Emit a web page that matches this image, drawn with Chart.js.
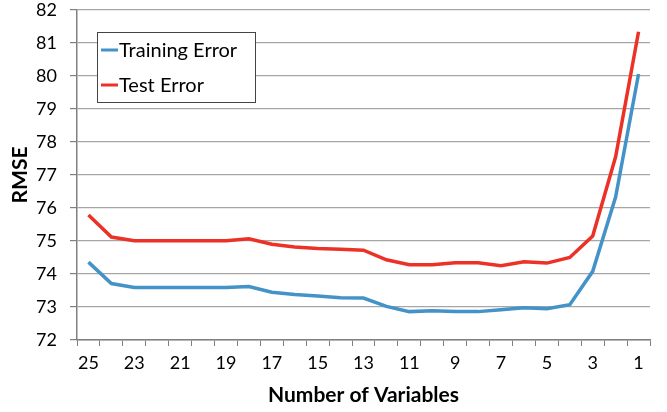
<!DOCTYPE html>
<html>
<head>
<meta charset="utf-8">
<script src="https://cdn.jsdelivr.net/npm/chart.js@4"></script>
<style>
  html, body { margin: 0; padding: 0; background: #fff; }
  #wrap { width: 667px; height: 412px; }
</style>
</head>
<body>
<div id="wrap"><canvas id="grafico"></canvas></div>
<script>
// Datos
const variables = [25, 24, 23, 22, 21, 20, 19, 18, 17, 16, 15, 14, 13, 12, 11, 10, 9, 8, 7, 6, 5, 4, 3, 2, 1];
const trainingError = [74.36, 73.71, 73.59, 73.59, 73.59, 73.59, 73.59, 73.62, 73.45, 73.38, 73.33, 73.28, 73.27,
    73.02, 72.86, 72.89, 72.86, 72.86, 72.92, 72.98, 72.95, 73.07, 74.08, 76.33, 80.06];
const testError = [75.79, 75.12, 75.01, 75.01, 75.01, 75.01, 75.01, 75.07, 74.90, 74.82, 74.77, 74.75, 74.72,
    74.43, 74.28, 74.28, 74.34, 74.34, 74.25, 74.37, 74.33, 74.50, 75.15, 77.55, 81.34];
const yTicks = [72, 73, 74, 75, 76, 77, 78, 79, 80, 81, 82];

const FONT = 'Lato, "Open Sans", sans-serif';

// Leyenda con recuadro dentro del área del gráfico
const boxLegend = {
    id: 'boxLegend',
    afterDraw(chart) {
        const ctx = chart.ctx;
        const x = 97, y = 32, w = 158, h = 70;
        ctx.save();
        ctx.fillStyle = '#fff';
        ctx.fillRect(x, y, w, h);
        ctx.strokeStyle = '#444';
        ctx.lineWidth = 1;
        ctx.strokeRect(x + 0.5, y + 0.5, w, h);
        ctx.font = '20px ' + FONT;
        ctx.textBaseline = 'middle';
        ctx.fillStyle = '#000';
        chart.data.datasets.forEach((ds, i) => {
            const cy = y + 18 + i * 35;
            ctx.strokeStyle = ds.borderColor;
            ctx.lineWidth = 3;
            ctx.beginPath();
            ctx.moveTo(x + 4, cy);
            ctx.lineTo(x + 21, cy);
            ctx.stroke();
            ctx.fillText(ds.label, x + 22, cy + 1);
        });
        ctx.restore();
    }
};

const ctx = document.getElementById('grafico').getContext('2d');
const myChart = new Chart(ctx, {
    type: 'line',
    data: {
        labels: variables,
        datasets: [{
            label: 'Training Error',
            data: trainingError,
            borderColor: '#4393c8',
            borderWidth: 3.5,
            pointRadius: 0,
            tension: 0
        }, {
            label: 'Test Error',
            data: testError,
            borderColor: '#ec3226',
            borderWidth: 3.5,
            pointRadius: 0,
            tension: 0
        }]
    },
    options: {
        responsive: true,
        maintainAspectRatio: false,
        animation: false,
        layout: { padding: { left: 0, right: 17, top: 10, bottom: 0 } },
        plugins: {
            legend: { display: false },
            tooltip: { enabled: false }
        },
        scales: {
            x: {
                type: 'category',
                offset: true,
                grid: {
                    display: true,
                    offset: true,
                    drawOnChartArea: false,
                    drawTicks: true,
                    tickLength: 6,
                    color: '#808080'
                },
                border: { display: true, color: '#808080', width: 1.5 },
                ticks: {
                    autoSkip: false,
                    maxRotation: 0,
                    color: '#000',
                    padding: 6,
                    font: { size: 18, family: FONT },
                    callback: function(value, index) {
                        return index % 2 === 0 ? this.getLabelForValue(value) : '';
                    }
                },
                title: {
                    display: true,
                    text: 'Number of Variables',
                    color: '#000',
                    font: { size: 21, weight: 'bold', family: FONT },
                    padding: { top: 2 }
                },
                afterFit: s => { s.height = 72; s.paddingLeft = 0; s.paddingRight = 0; }
            },
            y: {
                min: 72,
                max: 82,
                afterBuildTicks: s => { s.ticks = yTicks.map(v => ({ value: v })); },
                grid: {
                    color: '#a6a6a6',
                    lineWidth: 1.2,
                    drawTicks: true,
                    tickLength: 7,
                    tickColor: '#808080'
                },
                border: { display: true, color: '#808080', width: 1.5 },
                ticks: {
                    color: '#000',
                    padding: 13,
                    font: { size: 18, family: FONT }
                },
                title: {
                    display: true,
                    text: 'RMSE',
                    color: '#000',
                    font: { size: 21, weight: 'bold', family: FONT },
                    padding: { bottom: 0, top: 8 }
                },
                afterFit: s => { s.width = 77; s.paddingTop = 0; s.paddingBottom = 0; }
            }
        }
    },
    plugins: [boxLegend]
});
</script>
</body>
</html>
